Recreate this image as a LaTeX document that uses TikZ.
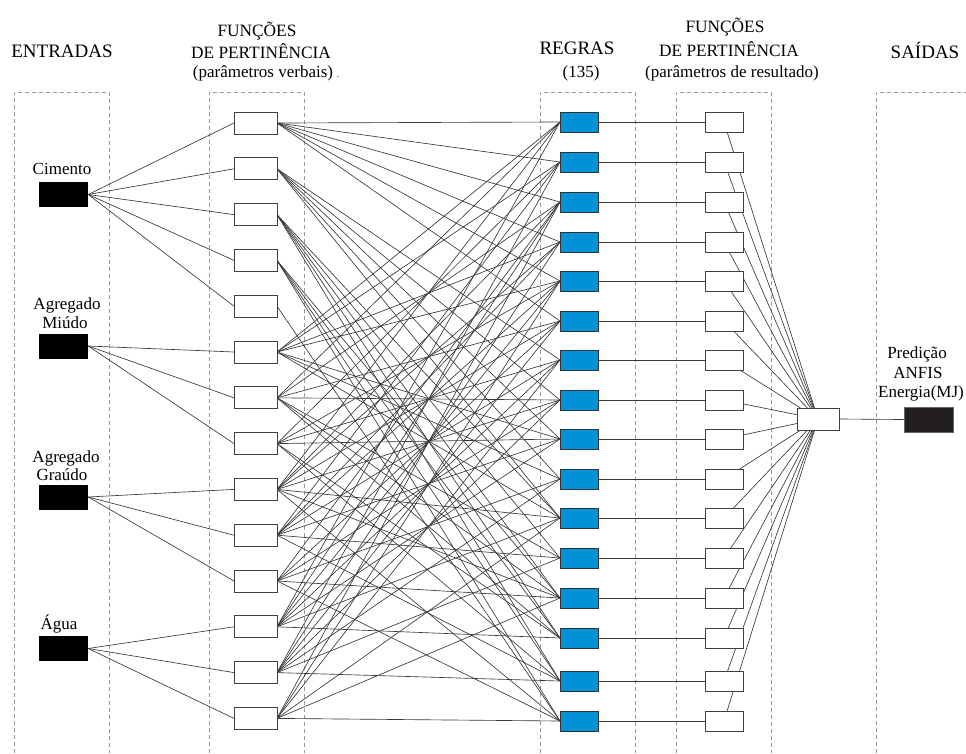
\documentclass[tikz,border=0pt]{standalone}
\usepackage{fontspec}
\setmainfont{Liberation Serif}
\definecolor{ruleblue}{RGB}{0,145,215}
\definecolor{outblack}{RGB}{35,31,32}
\begin{document}
\begin{tikzpicture}[x=1pt,y=-1pt,
  colbox/.style={draw=black!40, dash pattern=on 4pt off 3pt, line width=0.7pt},
  mfbox/.style={draw=black!75, fill=white, line width=0.9pt, minimum width=43pt, minimum height=22pt, inner sep=0pt},
  rulebox/.style={draw=black!80, fill=ruleblue, line width=0.9pt, minimum width=38pt, minimum height=20pt, inner sep=0pt},
  omfbox/.style={draw=black!75, fill=white, line width=0.9pt, minimum width=38pt, minimum height=20pt, inner sep=0pt},
  inbox/.style={fill=black, minimum width=49pt, minimum height=25pt, inner sep=0pt},
  sumbox/.style={draw=black!75, fill=white, line width=0.9pt, minimum width=42pt, minimum height=22pt, inner sep=0pt},
  outbox/.style={draw=black!60, fill=outblack, line width=0.9pt, minimum width=49pt, minimum height=25pt, inner sep=0pt},
  link/.style={draw=black!78, line width=0.65pt},
  ttl/.style={font=\fontsize{19}{22}\selectfont, anchor=base, inner sep=0pt},
  ttls/.style={font=\fontsize{17.3}{20}\selectfont, anchor=base, inner sep=0pt},
  lbl/.style={font=\fontsize{17}{20}\selectfont, anchor=base, inner sep=0pt}
]
\useasboundingbox (0,0) rectangle (966,753);
% dashed columns
\draw[colbox] (14,753) -- (14,92) -- (109,92) -- (109,753);
\draw[colbox] (209,753) -- (209,92) -- (304,92) -- (304,753);
\draw[colbox] (540,753) -- (540,92) -- (635,92) -- (635,753);
\draw[colbox] (676,753) -- (676,92) -- (771,92) -- (771,753);
\draw[colbox] (876,753) -- (876,92) -- (970,92);

% titles
\node[ttl] (tEnt) at (62,57) {ENTRADAS};
\node[ttls] (tF1a) at (257,36) {FUNÇÕES};
\node[ttls] (tF1b) at (261,58) {DE PERTINÊNCIA};
\node[lbl] (tF1c) at (263,77) {(parâmetros verbais)};
\node[lbl, font=\fontsize{9}{10}\selectfont] (tDot) at (338,77) {.};
\node[ttl] (tReg) at (577,54) {REGRAS};
\node[lbl] (tReg2) at (581,77) {(135)};
\node[ttls] (tF2a) at (725,32) {FUNÇÕES};
\node[ttls] (tF2b) at (729,56) {DE PERTINÊNCIA};
\node[lbl] (tF2c) at (732,77) {(parâmetros de resultado)};
\node[ttl] (tSai) at (925,58) {SAÍDAS};

% input labels
\node[lbl] (lCim) at (62,174) {Cimento};
\node[lbl] (lMi1) at (67,309) {Agregado};
\node[lbl] (lMi2) at (65,328) {Miúdo};
\node[lbl] (lGr1) at (66,462) {Agregado};
\node[lbl] (lGr2) at (62,480) {Graúdo};
\node[lbl] (lAgu) at (59,629) {Água};
\node[lbl] (lP1) at (917,358) {Predição};
\node[lbl] (lP2) at (918,378) {ANFIS};
\node[lbl] (lP3) at (921,397) {Energia(MJ)};

% node positions
\path (63.5,194.5) coordinate (cin1) (63.5,346) coordinate (cin2)
      (63.5,497) coordinate (cin3) (63.5,648.5) coordinate (cin4);
\foreach \i in {1,...,14} {\path (255.5,{123+(\i-1)*45.8}) coordinate (cm\i);}
\foreach \i/\y in {1/122,2/162,3/202,4/242,5/281,6/321,7/360,8/400,9/439,10/479,11/518,12/558,13/598,14/638,15/681,16/721}
  {\path (579,\y) coordinate (cr\i); \path (724,\y) coordinate (co\i);}

\foreach \i in {1,...,4} {\node[inbox] (in\i) at (cin\i) {};}
\node[sumbox] (sum) at (818,419) {};
\node[outbox] (out) at (928.5,419.5) {};

% output MFs to sum (behind boxes)
\foreach \i in {1,...,16} {\draw[link] (co\i) -- (sum.center);}
% inputs to MFs
\foreach \s/\ms in {1/{1,2,3,4,5},2/{6,7,8},3/{9,10,11},4/{12,13,14}}
  {\foreach \m in \ms {\draw[link] (in\s.east) -- ([xshift=-21.5pt]cm\m);}}
% MFs to rules
\foreach \m/\rs in {1/{1,2,3,4,5,6},2/{7,8,9,10,11},3/{11,12,13,14,15},4/{13,14,15,16},5/{16},
  6/{1,2,4,5,9,10,11},7/{1,3,6,8,12,13,14},8/{2,5,7,9,14,15},
  9/{1,3,4,6,8,11,13,16},10/{2,4,5,7,9,12,15},11/{3,6,8,10,13,16},
  12/{1,3,5,7,9,11,14},13/{2,4,6,8,10,12,15},14/{3,5,7,11,13,16}}
  {\foreach \r in \rs {\draw[link] ([xshift=21.5pt]cm\m) -- ([xshift=-19pt]cr\r);}}
% rules to output MFs
\foreach \i in {1,...,16} {\draw[link] ([xshift=19pt]cr\i) -- ([xshift=-19pt]co\i);}
\draw[link] (sum.east) -- (out.west);

% boxes on top
\foreach \i in {1,...,14} {\node[mfbox] (m\i) at (cm\i) {};}
\foreach \i in {1,...,16} {\node[rulebox] (r\i) at (cr\i) {}; \node[omfbox] (o\i) at (co\i) {};}
\node[sumbox] at (818,419) {};
\end{tikzpicture}
\end{document}
